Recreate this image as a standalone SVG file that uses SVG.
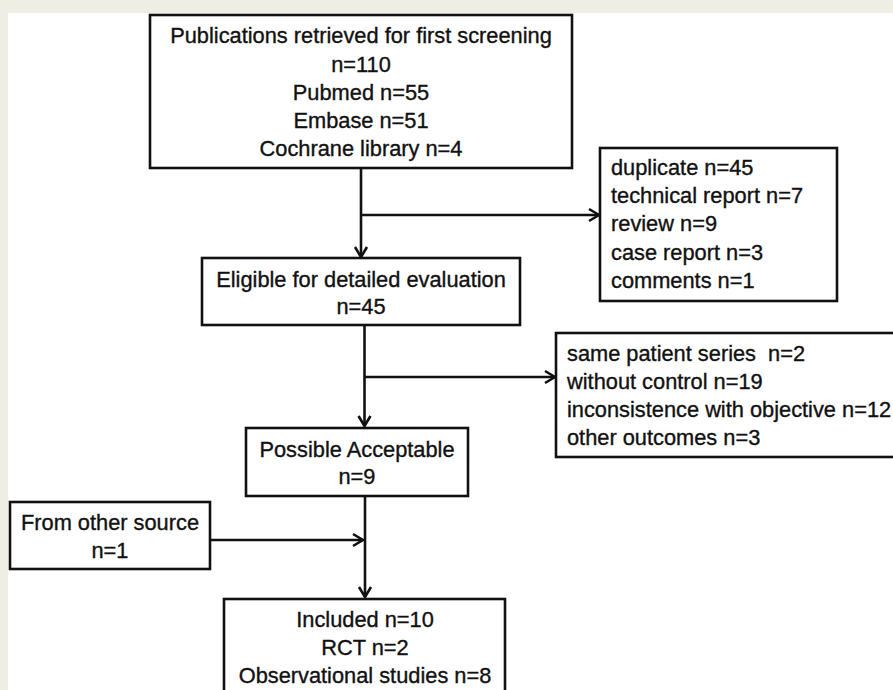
<svg xmlns="http://www.w3.org/2000/svg" width="893" height="690" viewBox="0 0 893 690">
<style>
.box{fill:#fff;stroke:#111;stroke-width:2.6}
.t{font-family:"Liberation Sans",Arial,sans-serif;font-size:21.8px;fill:#111;stroke:#111;stroke-width:0.35;white-space:pre}
.c{text-anchor:middle}
.ln{fill:none;stroke:#111;stroke-width:2.6}
</style>
<defs>
<marker id="ah" markerUnits="userSpaceOnUse" viewBox="-12 -8 14 16" refX="0" refY="0" markerWidth="14" markerHeight="16" orient="auto">
<path d="M-10,-6 L0,0 L-10,6" fill="none" stroke="#111" stroke-width="2.6"/>
</marker>
</defs>
<rect x="0" y="0" width="893" height="690" fill="#eeeee5"/>
<rect x="8" y="13" width="885" height="677" fill="#fff"/>
<g id="connectors">
<path class="ln" d="M361,168 V257" marker-end="url(#ah)"/>
<path class="ln" d="M361,215 H599" marker-end="url(#ah)"/>
<path class="ln" d="M364.5,325 V426" marker-end="url(#ah)"/>
<path class="ln" d="M364.5,377 H555" marker-end="url(#ah)"/>
<path class="ln" d="M365,496 V597" marker-end="url(#ah)"/>
<path class="ln" d="M210,540 H363" marker-end="url(#ah)"/>
</g>
<g id="n-publications">
<rect class="box" x="150" y="15" width="422" height="153"/>
<text class="t c" x="361" y="43">Publications retrieved for first screening</text>
<text class="t c" x="361" y="72">n=110</text>
<text class="t c" x="361" y="100">Pubmed n=55</text>
<text class="t c" x="361" y="128">Embase n=51</text>
<text class="t c" x="361" y="156">Cochrane library n=4</text>
</g>
<g id="n-excluded1">
<rect class="box" x="600" y="148" width="237" height="153"/>
<text class="t" x="611" y="175">duplicate n=45</text>
<text class="t" x="611" y="203">technical report n=7</text>
<text class="t" x="611" y="231">review n=9</text>
<text class="t" x="611" y="260">case report n=3</text>
<text class="t" x="611" y="288">comments n=1</text>
</g>
<g id="n-eligible">
<rect class="box" x="202" y="258" width="318" height="67"/>
<text class="t c" x="361" y="287">Eligible for detailed evaluation</text>
<text class="t c" x="361" y="314">n=45</text>
</g>
<g id="n-excluded2">
<rect class="box" x="556" y="333" width="360" height="124"/>
<text class="t" x="567" y="361">same patient series  n=2</text>
<text class="t" x="567" y="389">without control n=19</text>
<text class="t" x="567" y="417">inconsistence with objective n=12</text>
<text class="t" x="567" y="445">other outcomes n=3</text>
</g>
<g id="n-possible">
<rect class="box" x="246" y="428" width="222" height="68"/>
<text class="t c" x="357" y="457">Possible Acceptable</text>
<text class="t c" x="357" y="484">n=9</text>
</g>
<g id="n-other">
<rect class="box" x="10" y="502" width="200" height="67"/>
<text class="t c" x="110" y="530">From other source</text>
<text class="t c" x="110" y="558">n=1</text>
</g>
<g id="n-included">
<rect class="box" x="224" y="599" width="281" height="110"/>
<text class="t c" x="365" y="627">Included n=10</text>
<text class="t c" x="365" y="655">RCT n=2</text>
<text class="t c" x="365" y="683">Observational studies n=8</text>
</g>
</svg>
